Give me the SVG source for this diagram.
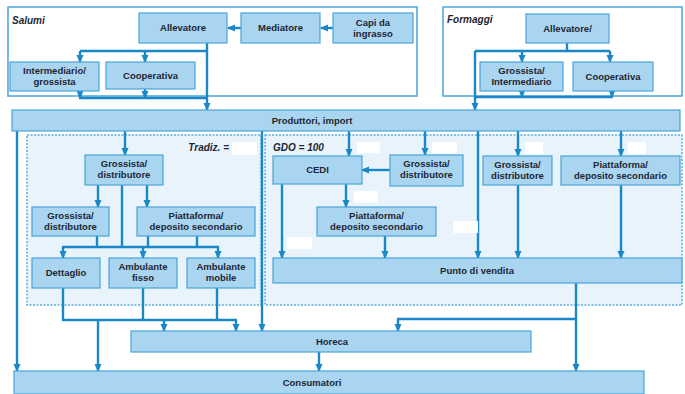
<svg xmlns="http://www.w3.org/2000/svg" width="685" height="394" viewBox="0 0 685 394">
<defs>
<marker id="ah" markerUnits="userSpaceOnUse" markerWidth="8" markerHeight="8" viewBox="0 0 8 8" refX="7" refY="4" orient="auto">
<path d="M0,0.5 L8,4 L0,7.5 Z" fill="#1a88c6"/>
</marker>
<style>
.bg{fill:#ffffff}
.outer{fill:#ffffff;stroke:#4aa5d8;stroke-width:1.5}
.region{fill:#e8f3fb;stroke:#5aaee0;stroke-width:1.5;stroke-dasharray:2 1.5}
.box{fill:#a9d5f1;stroke:#4aa5d8;stroke-width:1.2}
.blank{fill:#ffffff}
.t{font-family:"Liberation Sans",Arial,sans-serif;font-weight:bold;font-size:9.5px;fill:#1e2633;text-anchor:middle}
.ti{font-family:"Liberation Sans",Arial,sans-serif;font-weight:bold;font-style:italic;font-size:10px;fill:#1e2633}
.c{fill:none;stroke:#1a88c6;stroke-width:2.4}
.a{marker-end:url(#ah)}
</style>
</defs>
<rect class="bg" x="0" y="0" width="685" height="394"/>

<g id="salumi">
<rect class="outer" x="8" y="7" width="409" height="89"/>
<text class="ti" x="12" y="24">Salumi</text>
</g>
<g id="formaggi">
<rect class="outer" x="443" y="7" width="239" height="89"/>
<text class="ti" x="447" y="23">Formaggi</text>
</g>
<g id="tradiz">
<rect class="region" x="27" y="135" width="234" height="170"/>
<text class="ti" x="229" y="151" text-anchor="end">Tradiz. =</text>
</g>
<g id="gdo">
<rect class="region" x="265" y="135" width="417" height="170"/>
<text class="ti" x="273" y="151">GDO = 100</text>
</g>

<g id="connectors">
<path class="c a" d="M241,28 L228,28"/>
<path class="c a" d="M333,28 L321,28"/>
<path class="c a" d="M207,43 L207,110"/>
<path class="c" d="M80,51 L207,51"/>
<path class="c a" d="M80,51 L80,62"/>
<path class="c a" d="M145,51 L145,62"/>
<path class="c a" d="M80,91 L80,98"/>
<path class="c a" d="M145,89 L145,98"/>
<path class="c" d="M79,98 L207,98"/>

<path class="c" d="M567,43 L567,51"/>
<path class="c" d="M475,51 L610,51"/>
<path class="c a" d="M522,51 L522,62"/>
<path class="c a" d="M610,51 L610,62"/>
<path class="c a" d="M475,51 L475,110"/>
<path class="c a" d="M522,91 L522,97"/>
<path class="c a" d="M612,91 L612,97"/>
<path class="c" d="M475,97 L613,97"/>

<path class="c a" d="M17,131 L17,371"/>
<path class="c a" d="M125,131 L125,155"/>
<path class="c a" d="M262,131 L262,331"/>
<path class="c a" d="M349,131 L349,156"/>
<path class="c a" d="M425,131 L425,155"/>
<path class="c a" d="M478,131 L478,258"/>
<path class="c a" d="M518,131 L518,156"/>
<path class="c a" d="M621,131 L621,156"/>

<path class="c a" d="M98,185 L98,207"/>
<path class="c a" d="M147,185 L147,207"/>
<path class="c" d="M122,185 L122,247"/>
<path class="c" d="M97,236 L97,247"/>
<path class="c" d="M148,236 L148,247"/>
<path class="c" d="M197,236 L197,247"/>
<path class="c" d="M62,247 L219,247"/>
<path class="c a" d="M63,247 L63,258"/>
<path class="c a" d="M143,247 L143,258"/>
<path class="c a" d="M218,247 L218,258"/>
<path class="c" d="M63,288 L63,320"/>
<path class="c" d="M143,288 L143,320"/>
<path class="c" d="M217,288 L217,320"/>
<path class="c" d="M62,320 L237,320"/>
<path class="c a" d="M164,320 L164,331"/>
<path class="c a" d="M236,320 L236,331"/>
<path class="c a" d="M98,320 L98,371"/>

<path class="c a" d="M390,170 L362,170"/>
<path class="c a" d="M346,184 L346,207"/>
<path class="c a" d="M385,236 L385,258"/>
<path class="c a" d="M282,184 L282,258"/>
<path class="c a" d="M518,185 L518,258"/>
<path class="c a" d="M621,185 L621,258"/>
<path class="c a" d="M576,283 L576,371"/>
<path class="c" d="M576,319 L397,319"/>
<path class="c a" d="M398,319 L398,331"/>
<path class="c a" d="M319,352 L319,371"/>
</g>

<g id="n-allevatore"><rect class="box" x="139" y="13" width="88" height="30"/><text class="t" x="183" y="31">Allevatore</text></g>
<g id="n-mediatore"><rect class="box" x="241" y="13" width="79" height="30"/><text class="t" x="280.500" y="31">Mediatore</text></g>
<g id="n-capi"><rect class="box" x="333" y="13" width="80" height="30"/><text class="t" x="373" y="26">Capi da</text><text class="t" x="373" y="37">ingrasso</text></g>
<g id="n-intermediario"><rect class="box" x="10" y="62" width="89" height="29"/><text class="t" x="54.500" y="74">Intermediario/</text><text class="t" x="54.500" y="85">grossista</text></g>
<g id="n-cooperativa-s"><rect class="box" x="106" y="62" width="89" height="27"/><text class="t" x="150.500" y="79">Cooperativa</text></g>

<g id="n-allevatore-f"><rect class="box" x="526" y="14" width="83" height="29"/><text class="t" x="567.500" y="32">Allevatore/</text></g>
<g id="n-grossista-f"><rect class="box" x="480" y="62" width="83" height="29"/><text class="t" x="521.500" y="74">Grossista/</text><text class="t" x="521.500" y="85">Intermediario</text></g>
<g id="n-cooperativa-f"><rect class="box" x="573" y="62" width="80" height="29"/><text class="t" x="613" y="80">Cooperativa</text></g>

<g id="n-produttori"><rect class="box" x="12" y="110" width="668" height="21"/><text class="t" x="312" y="124">Produttori, import</text></g>

<g id="n-grossista-t1"><rect class="box" x="85" y="155" width="78" height="30"/><text class="t" x="124" y="167">Grossista/</text><text class="t" x="124" y="178">distributore</text></g>
<g id="n-grossista-t2"><rect class="box" x="32" y="207" width="77" height="29"/><text class="t" x="70.500" y="219">Grossista/</text><text class="t" x="70.500" y="230">distributore</text></g>
<g id="n-piatta-t"><rect class="box" x="137" y="207" width="118" height="29"/><text class="t" x="196" y="219">Piattaforma/</text><text class="t" x="196" y="230">deposito secondario</text></g>
<g id="n-dettaglio"><rect class="box" x="32" y="258" width="68" height="30"/><text class="t" x="66" y="276">Dettaglio</text></g>
<g id="n-amb-fisso"><rect class="box" x="109" y="258" width="68" height="30"/><text class="t" x="143" y="270">Ambulante</text><text class="t" x="143" y="281">fisso</text></g>
<g id="n-amb-mobile"><rect class="box" x="187" y="258" width="68" height="30"/><text class="t" x="221" y="270">Ambulante</text><text class="t" x="221" y="281">mobile</text></g>

<g id="n-cedi"><rect class="box" x="273" y="156" width="89" height="28"/><text class="t" x="317.500" y="173">CEDI</text></g>
<g id="n-grossista-g"><rect class="box" x="390" y="155" width="73" height="31"/><text class="t" x="426.500" y="167">Grossista/</text><text class="t" x="426.500" y="178">distributore</text></g>
<g id="n-piatta-g"><rect class="box" x="317" y="207" width="119" height="29"/><text class="t" x="376.500" y="219">Piattaforma/</text><text class="t" x="376.500" y="230">deposito secondario</text></g>
<g id="n-grossista-r"><rect class="box" x="483" y="156" width="69" height="29"/><text class="t" x="517.500" y="168">Grossista/</text><text class="t" x="517.500" y="179">distributore</text></g>
<g id="n-piatta-r"><rect class="box" x="561" y="156" width="119" height="29"/><text class="t" x="620.500" y="168">Piattaforma/</text><text class="t" x="620.500" y="179">deposito secondario</text></g>
<g id="n-punto"><rect class="box" x="273" y="258" width="409" height="25"/><text class="t" x="477" y="274">Punto di vendita</text></g>

<g id="n-horeca"><rect class="box" x="131" y="331" width="400" height="21"/><text class="t" x="332" y="345">Horeca</text></g>
<g id="n-consumatori"><rect class="box" x="14" y="371" width="630" height="23"/><text class="t" x="312" y="386">Consumatori</text></g>

<g id="blanks">
<rect class="blank" x="232" y="142" width="25" height="13"/>
<rect class="blank" x="357" y="142" width="23" height="11"/>
<rect class="blank" x="432" y="142" width="25" height="11"/>
<rect class="blank" x="525" y="142" width="18" height="12"/>
<rect class="blank" x="628" y="142" width="18" height="12"/>
<rect class="blank" x="354" y="191" width="24" height="12"/>
<rect class="blank" x="287" y="237" width="25" height="12"/>
<rect class="blank" x="453" y="221" width="25" height="12"/>
</g>
</svg>
